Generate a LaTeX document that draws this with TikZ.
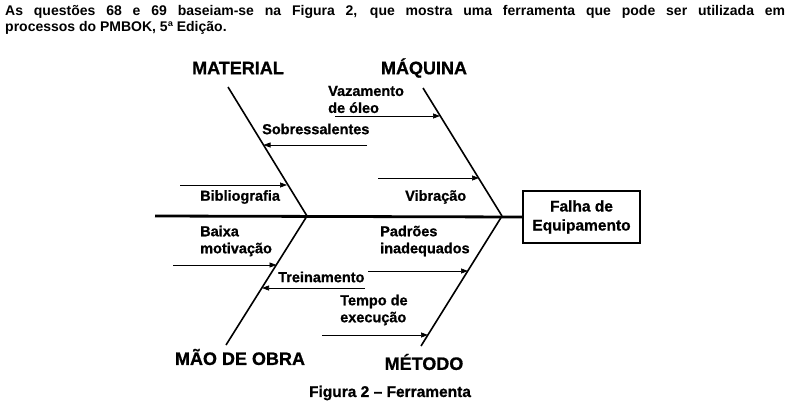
\documentclass[tikz,border=0pt]{standalone}
\usepackage{fontspec}
\setmainfont{Liberation Sans}[BoldFeatures={FakeBold=0.8}]
\newfontfamily\hdrfont{Liberation Sans}
\usetikzlibrary{arrows.meta}
\begin{document}
\begin{tikzpicture}[x=1pt,y=-1pt,
  lbl/.style={font=\bfseries\fontsize{14.5}{17}\selectfont, inner sep=0, align=left, anchor=west},
  cat/.style={font=\bfseries\fontsize{18}{20}\selectfont, inner sep=0},
  bone/.style={line width=1.6pt},
  spine/.style={line width=2.8pt},
  sub/.style={line width=0.7pt, -{Triangle[length=7pt,width=5pt]}}]
\useasboundingbox[fill=white] (0,0) rectangle (794,407);
% header
\node[anchor=base west, text width=780pt, align=justify, inner sep=0,
  font=\hdrfont\bfseries\fontsize{14}{16}\selectfont] (hdr) at (5,15)
  {As questões 68 e 69 baseiam-se na Figura 2, que mostra uma ferramenta que pode ser utilizada em\linebreak processos do PMBOK, 5ª Edição.};
% head box
\node[draw, line width=2.2pt, minimum width=117pt, minimum height=52pt, inner sep=0,
  align=center, font=\bfseries\fontsize{15.5}{19}\selectfont] (head) at (581.5,217) {Falha de\\Equipamento};
% spine
\coordinate (s0) at (155,216);
\coordinate (tA) at (307,216);
\coordinate (tB) at (502,216);
\draw[spine] (s0) -- (head.west);
% bones
\coordinate (matTop) at (228,87);
\coordinate (maqTop) at (423,88);
\coordinate (maoBot) at (226,345);
\coordinate (metBot) at (421,346);
\draw[bone] (matTop) -- (tA);
\draw[bone] (maqTop) -- (tB);
\draw[bone] (maoBot) -- (tA);
\draw[bone] (metBot) -- (tB);
% category labels
\node[cat] (mat) at (238,68) {MATERIAL};
\node[cat] (maq) at (424,68) {MÁQUINA};
\node[cat] (mao) at (240,357) {MÃO DE OBRA};
\node[cat] (met) at (424,362) {MÉTODO};
% sub-cause labels
\node[lbl] (vaz) at (328,99.5) {Vazamento\\de óleo};
\node[lbl] (sob) at (262,129) {Sobressalentes};
\node[lbl] (bib) at (200,197) {Bibliografia};
\node[lbl] (vib) at (405,197) {Vibração};
\node[lbl] (bai) at (200,241) {Baixa\\motivação};
\node[lbl] (pad) at (380,241) {Padrões\\inadequados};
\node[lbl] (tre) at (278,277) {Treinamento};
\node[lbl] (tem) at (340,310) {Tempo de\\execução};
% sub-cause arrows
\coordinate (vazS) at (335,116);  \coordinate (vazE) at (440,116);
\coordinate (sobS) at (367,145);  \coordinate (sobE) at (263.5,145);
\coordinate (bibS) at (180,185);  \coordinate (bibE) at (287,185);
\coordinate (vibS) at (378,178);  \coordinate (vibE) at (479,178);
\coordinate (baiS) at (173,265);  \coordinate (baiE) at (276.5,265);
\coordinate (treS) at (365,288);  \coordinate (treE) at (262,288);
\coordinate (padS) at (368,271);  \coordinate (padE) at (468,271);
\coordinate (temS) at (322,335);  \coordinate (temE) at (428,335);
\foreach \p in {vaz,sob,bib,vib,bai,tre,pad,tem}
  \draw[sub] (\p S) -- (\p E);
% caption
\node[font=\bfseries\fontsize{15.5}{18}\selectfont, inner sep=0] (cap) at (390,393) {Figura 2 – Ferramenta};
\end{tikzpicture}
\end{document}
